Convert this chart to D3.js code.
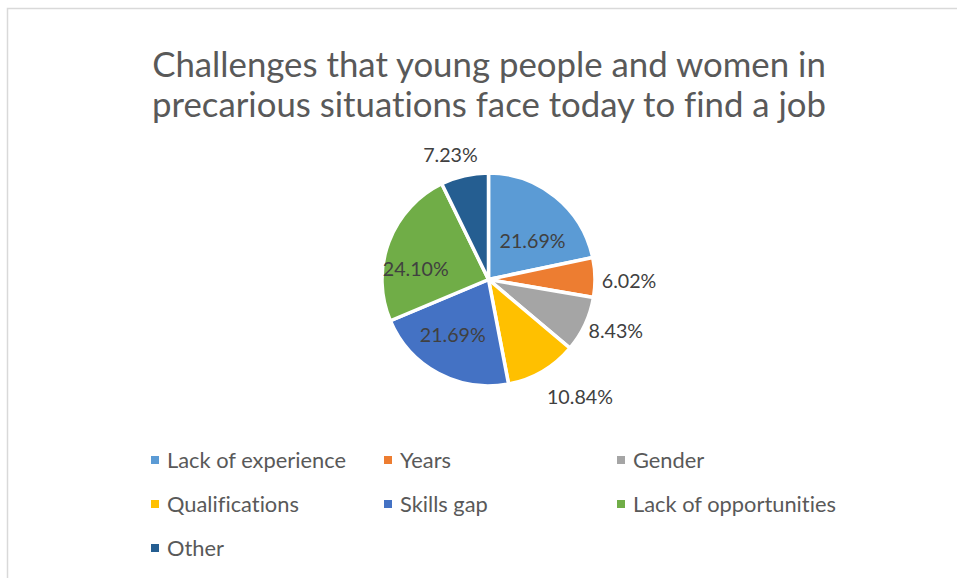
<!DOCTYPE html>
<html>
<head>
<meta charset="utf-8">
<script src="https://cdn.jsdelivr.net/npm/d3@7"></script>
<style>
  html, body { margin: 0; padding: 0; background: #fff; }
  svg { display: block; }
  text { font-variant-ligatures: none; }
</style>
</head>
<body>
<svg id="chart" width="957" height="578"></svg>
<script>
// Survey answers: share of each challenge (percent)
const categories = ["Lack of experience", "Years", "Gender", "Qualifications", "Skills gap", "Lack of opportunities", "Other"];
const values = [21.69, 6.02, 8.43, 10.84, 21.69, 24.10, 7.23];
const colors = ["#5B9BD5", "#ED7D31", "#A5A5A5", "#FFC000", "#4472C4", "#70AD47", "#255E91"];
const titleLines = ["Challenges that young people and women in", "precarious situations face today to find a job"];

// Label distance from the pie centre, as a fraction of the radius (best-fit placement)
const labelRadius = [0.55, 1.32, 1.29, 1.40, 0.62, 0.69, 1.22];
const labelTurn = [0.17, 0.03, -0.05, -0.13, 0.08, -0.22, -0.07];

const svg = d3.select("#chart");
const font = "Lato, 'Open Sans', sans-serif";

// Size a text element so its rendered width equals the given width
function fitWidth(el, base, width) {
  el.attr("font-size", base);
  const w = el.node().getComputedTextLength();
  const s = base * width / w;
  el.attr("font-size", s);
  return s;
}

// Chart frame
svg.append("rect")
  .attr("x", 7.5).attr("y", 8.5)
  .attr("width", 1000).attr("height", 700)
  .attr("fill", "#fff")
  .attr("stroke", "#D9D9D9").attr("stroke-width", 1.5);

// Title, fitted to its line width
const title = svg.append("g");
titleLines.forEach((t, i) => {
  const el = title.append("text")
    .attr("x", 489).attr("y", 77 + i * 40)
    .attr("text-anchor", "middle")
    .attr("fill", "#595959")
    .attr("font-family", font)
    .attr("font-weight", 400)
    .text(t);
  fitWidth(el, 31, 674);
});

// Pie
const cx = 488.5, cy = 279.5, r = 106.5;
const pie = d3.pie().sort(null).value(d => d)(values);
const arc = d3.arc().innerRadius(0).outerRadius(r);
const g = svg.append("g").attr("transform", `translate(${cx},${cy})`);
g.selectAll("path").data(pie).join("path")
  .attr("d", arc)
  .attr("fill", (d, i) => colors[i])
  .attr("stroke", "#fff")
  .attr("stroke-width", 3.5)
  .attr("stroke-linejoin", "miter");

// Data labels
const labels = g.selectAll("text.lbl").data(pie).join("text")
  .attr("class", "lbl")
  .attr("x", (d, i) => {
    const a = (d.startAngle + d.endAngle) / 2 + labelTurn[i];
    return Math.sin(a) * r * labelRadius[i];
  })
  .attr("y", (d, i) => {
    const a = (d.startAngle + d.endAngle) / 2 + labelTurn[i];
    return -Math.cos(a) * r * labelRadius[i];
  })
  .attr("dy", "0.36em")
  .attr("text-anchor", "middle")
  .attr("fill", "#404040")
  .attr("font-family", font)
  .text(d => d.data.toFixed(2) + "%");
const labelSize = fitWidth(labels.filter((d, i) => i === 0), 17.5, 66);
labels.attr("font-size", labelSize);

// Legend: three columns
const colX = d3.scalePoint().domain([0, 1, 2]).range([155, 621]);
const rowY = d3.scalePoint().domain([0, 1, 2]).range([460, 548]);
const leg = svg.append("g");
categories.forEach((c, i) => {
  const x = colX(i % 3), y = rowY(Math.floor(i / 3));
  leg.append("rect")
    .attr("x", x - 4).attr("y", y - 4)
    .attr("width", 8).attr("height", 8)
    .attr("fill", colors[i]);
  leg.append("text")
    .attr("class", "legtext")
    .attr("x", x + 12).attr("y", y)
    .attr("dy", "0.36em")
    .attr("fill", "#595959")
    .attr("font-family", font)
    .text(c);
});
const legTexts = leg.selectAll("text.legtext");
const legSize = fitWidth(legTexts.filter((d, i) => i === 0), 17.5, 179);
legTexts.attr("font-size", legSize);
</script>
</body>
</html>
